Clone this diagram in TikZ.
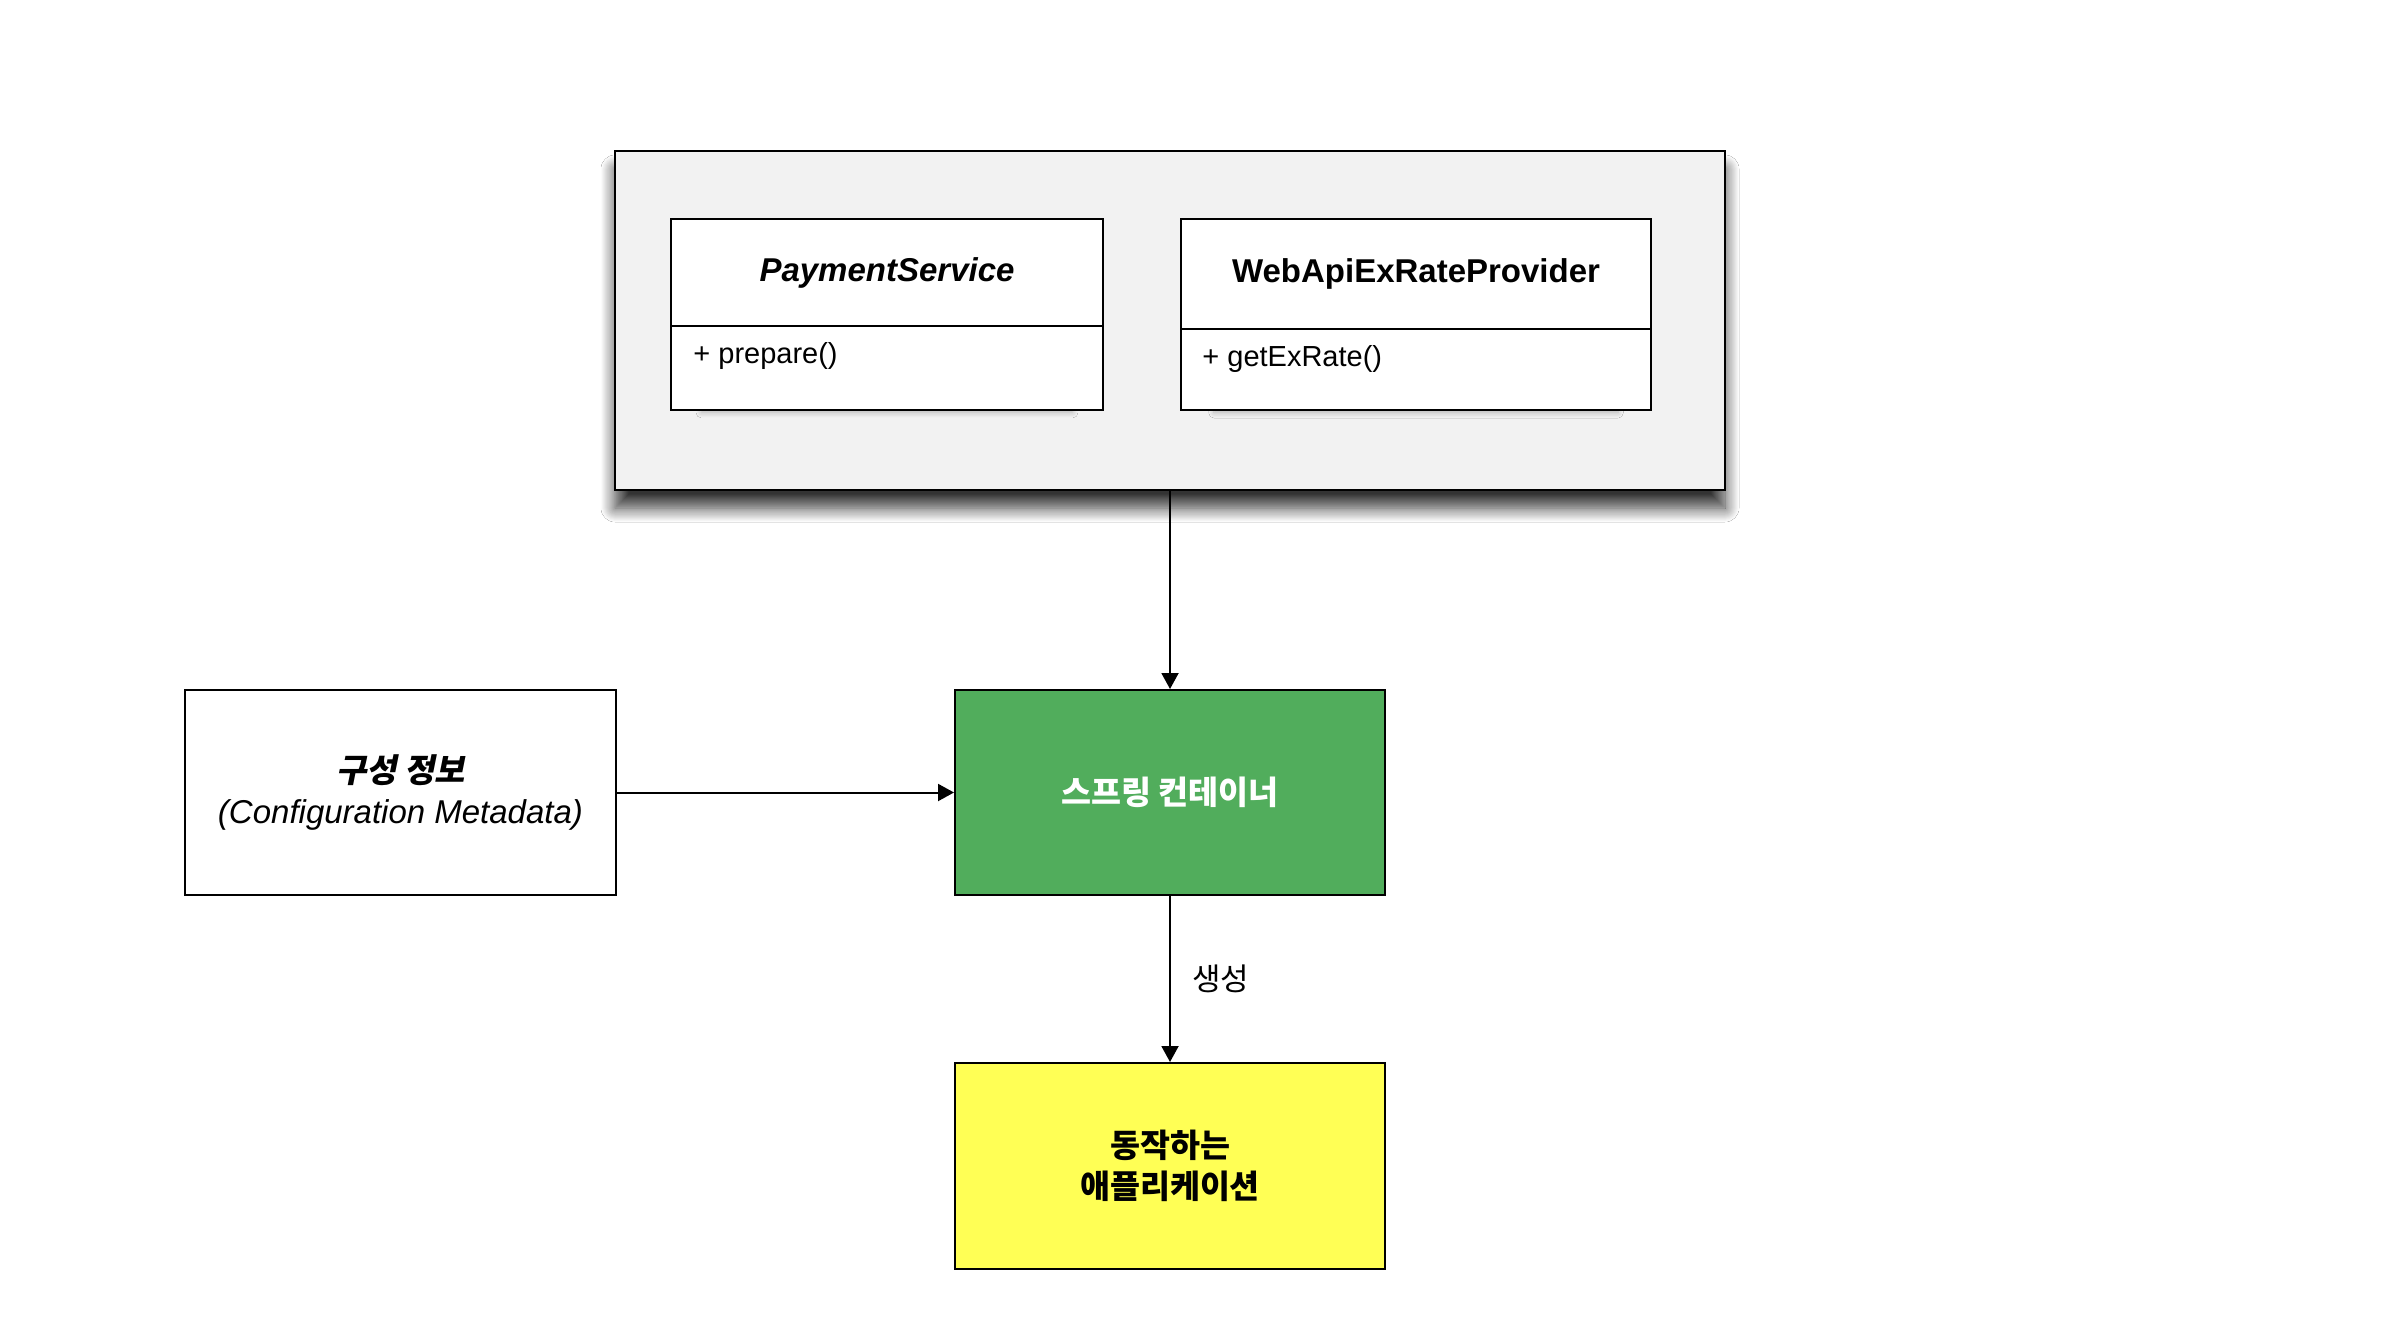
\documentclass[tikz,border=0pt]{standalone}
\usepackage{fontspec}
\setmainfont{Liberation Sans}
\newfontfamily\kr{Noto Sans CJK KR}
\newfontfamily\krsl{Noto Sans CJK KR}[FakeSlant=0.2]
\usetikzlibrary{arrows.meta,shadows.blur}
\definecolor{boxgray}{RGB}{242,242,242}
\definecolor{springgreen}{RGB}{81,173,92}
\definecolor{appyellow}{RGB}{255,255,85}
\begin{document}
\begin{tikzpicture}[x=0.5pt,y=-0.5pt,
  box/.style={draw=black, line width=1pt, rectangle, inner sep=0pt, anchor=center},
  latin/.style={font=\fontsize{16.5}{20.5}\selectfont},
  member/.style={font=\fontsize{14.5}{17}\selectfont, inner sep=0pt, anchor=west},
  korean/.style={font=\fontsize{15.5}{20.5}\selectfont\kr},
  koreanbig/.style={font=\fontsize{16.3}{20.5}\selectfont\kr\bfseries},
  arr/.style={line width=1pt, -{Triangle[length=8pt,width=8.5pt]}},
  outershadow/.style={blur shadow={shadow xshift=0pt, shadow yshift=-9pt, shadow blur radius=7pt, shadow blur steps=14, shadow opacity=80}},
  innershadow/.style={blur shadow={shadow xshift=0pt, shadow yshift=-5pt, shadow scale=0.86, shadow blur radius=3pt, shadow blur steps=8, shadow opacity=25}}
]
\fill[white] (0,0) rectangle (2392,1332);
\useasboundingbox (0,0) rectangle (2392,1332);

% container of beans
\node[box, fill=boxgray, minimum width=555pt, minimum height=169.5pt, outershadow] (outer) at (1170,320.5) {};

% PaymentService class
\node[box, fill=white, minimum width=216pt, minimum height=42.5pt, innershadow] (psb) at (887,367.5) {};
\node[box, fill=white, minimum width=216pt, minimum height=53.5pt, font=\fontsize{16.5}{20.5}\selectfont\bfseries\itshape] (psh) at (887,272.5) {PaymentService};
\node[member] (psm) at (693,356) {+ prepare()};

% WebApiExRateProvider class
\node[box, fill=white, minimum width=235pt, minimum height=41pt, innershadow] (wab) at (1416,369) {};
\node[box, fill=white, minimum width=235pt, minimum height=55pt, font=\fontsize{16.5}{20.5}\selectfont\bfseries] (wah) at (1416,274) {WebApiExRateProvider};
\node[member] (wam) at (1202,359) {+ getExRate()};

% configuration metadata
\node[box, fill=white, minimum width=215.5pt, minimum height=102.5pt, align=center, latin] (cfg) at (400.5,792.5)
  {{\krsl\bfseries 구성 정보}\\{\itshape (Configuration Metadata)}};

% spring container
\node[box, fill=springgreen, minimum width=215pt, minimum height=102.5pt, koreanbig, text=white] (spr) at (1170,792.5)
  {스프링 컨테이너};

% running application
\node[box, fill=appyellow, minimum width=215pt, minimum height=103pt, koreanbig, align=center] (app) at (1170,1166)
  {동작하는\\애플리케이션};

% connectors
\draw[arr] (outer.south) -- (spr.north);
\draw[arr] (cfg.east) -- (spr.west);
\draw[arr] (spr.south) -- node[right, korean, inner sep=0pt, xshift=10.5pt] (lbl) {생성} (app.north);
\end{tikzpicture}
\end{document}
